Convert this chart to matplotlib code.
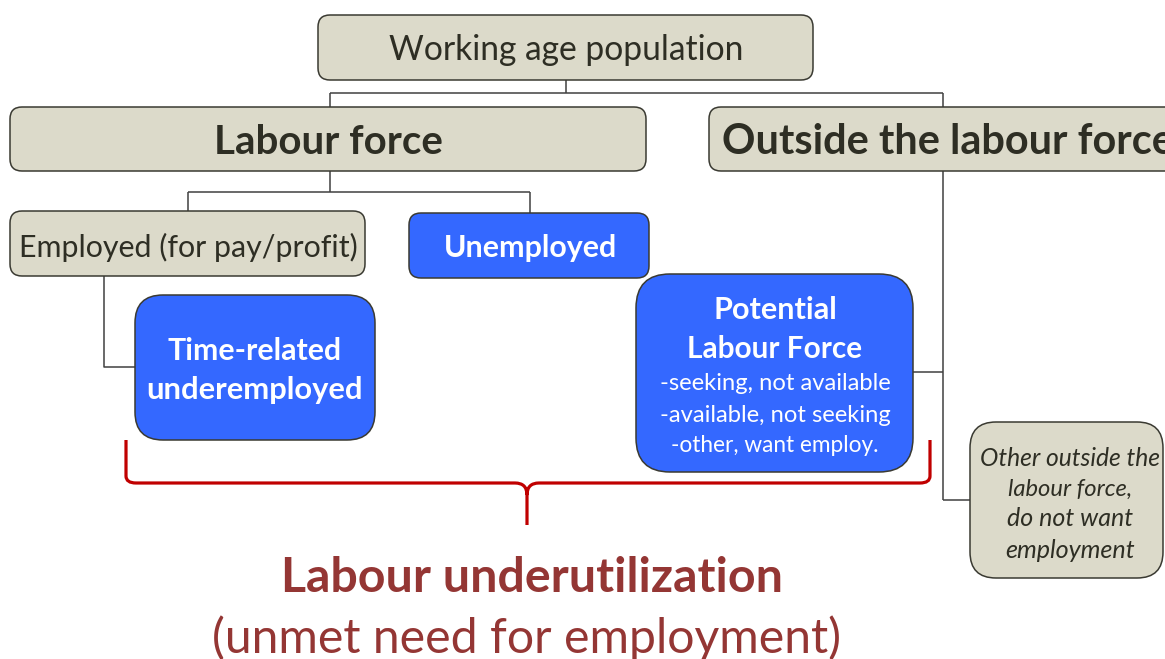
import matplotlib
matplotlib.use("Agg")
import matplotlib.pyplot as plt
from matplotlib.patches import FancyBboxPatch, PathPatch
from matplotlib.path import Path

plt.rcParams["font.family"] = ["Lato", "DejaVu Sans"]

# labels of the diagram
top_label = "Working age population"
level1_labels = ["Labour force", "Outside the labour force"]
lf_labels = ["Employed (for pay/profit)", "Unemployed"]
under_label = ["Time-related", "underemployed"]
plf_title = ["Potential", "Labour Force"]
plf_items = ["-seeking, not available", "-available, not seeking", "-other, want employ."]
other_label = ["Other outside the", "labour force,", "do not want", "employment"]
bottom_title = "Labour underutilization"
bottom_sub = "(unmet need for employment)"

BEIGE = "#DCDACA"
BLUE = "#3468FF"
EDGE = "#3a3a32"
DARK = "#2e2e24"
RED = "#C00000"
MAROON = "#943634"

fig = plt.figure(figsize=(11.65, 6.59), dpi=100)
ax = fig.add_axes([0, 0, 1, 1])
ax.set_xlim(0, 1165)
ax.set_ylim(659, 0)
ax.axis("off")
renderer = fig.canvas.get_renderer()


def box(x0, y0, x1, y1, color, r=12):
    p = FancyBboxPatch((x0, y0), x1 - x0, y1 - y0,
                       boxstyle=f"round,pad=0,rounding_size={r}",
                       facecolor=color, edgecolor=EDGE, linewidth=1.1, zorder=2)
    ax.add_patch(p)


def label(x, y, s, width, ha="center", **kw):
    # size the text so it spans the width seen in the picture
    t = ax.text(x, y + 2, s, fontsize=20, ha=ha, va="center", zorder=3, **kw)
    w = t.get_window_extent(renderer=renderer).width
    t.set_fontsize(20 * width / w)
    return t


def line(xs, ys):
    ax.plot(xs, ys, color="#404040", lw=1.1, zorder=1, solid_capstyle="butt")


# connectors
line([566, 566], [80, 93])
line([330, 943], [93, 93])
line([330, 330], [93, 107])
line([943, 943], [93, 500])
line([330, 330], [171, 192])
line([188, 530], [192, 192])
line([188, 188], [192, 211])
line([530, 530], [192, 213])
line([104, 104, 135], [276, 367, 367])
line([913, 943], [372, 372])
line([943, 970], [500, 500])

# boxes
box(318, 15, 813, 80, BEIGE)
box(10, 107, 646, 171, BEIGE)
box(709, 107, 1200, 171, BEIGE)
box(10, 211, 365, 276, BEIGE)
box(409, 213, 649, 278, BLUE)
box(135, 295, 375, 440, BLUE, r=28)
box(636, 274, 913, 472, BLUE, r=34)
box(970, 422, 1163, 578, BEIGE, r=26)

# texts
label(566, 48, top_label, 355, color=DARK)
label(328, 140, level1_labels[0], 228, color=DARK, fontweight="bold")
label(722, 140, level1_labels[1], 453, ha="left", color=DARK, fontweight="bold")
label(188, 245, lf_labels[0], 339, color=DARK)
label(530, 246, lf_labels[1], 173, color="white", fontweight="bold")
label(255, 349, under_label[0], 174, color="white", fontweight="bold")
label(255, 388, under_label[1], 216, color="white", fontweight="bold")
label(775, 308, plf_title[0], 124, color="white", fontweight="bold")
label(775, 347, plf_title[1], 175, color="white", fontweight="bold")
for yy, s, w in zip([382, 413, 444], plf_items, [232, 232, 208]):
    label(775, yy, s, w, color="white")
for yy, s, w in zip([456, 487, 517, 548], other_label, [180, 124, 126, 130]):
    label(1070, yy, s, w, color=DARK, style="italic")

# brace
verts = [(126, 440), (126, 476), (126, 483), (136, 483),
         (515, 483), (527, 483), (527, 495), (527, 525),
         (527, 495), (527, 483), (539, 483),
         (920, 483), (930, 483), (930, 476), (930, 440)]
codes = [Path.MOVETO, Path.LINETO, Path.CURVE3, Path.CURVE3,
         Path.LINETO, Path.CURVE3, Path.CURVE3, Path.LINETO,
         Path.MOVETO, Path.CURVE3, Path.CURVE3,
         Path.LINETO, Path.CURVE3, Path.CURVE3, Path.LINETO]
ax.add_patch(PathPatch(Path(verts, codes), facecolor="none", edgecolor=RED,
                       lw=2.3, zorder=2))

label(532, 576, bottom_title, 500, color=MAROON, fontweight="bold")
label(526, 636, bottom_sub, 632, color=MAROON)

fig.savefig("out.png", dpi=100)
